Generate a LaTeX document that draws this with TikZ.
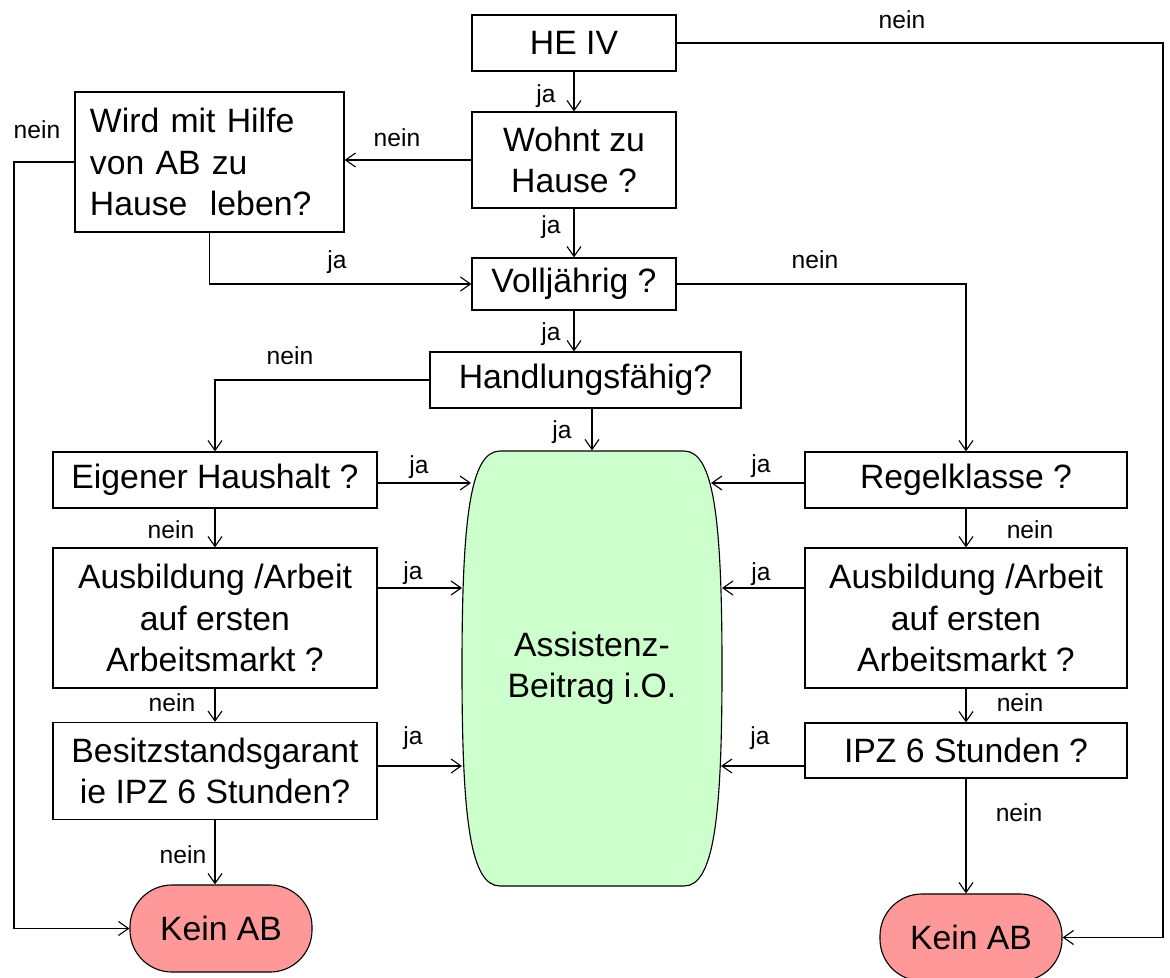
\documentclass[tikz,border=0pt]{standalone}
\usepackage{fontspec}
\setmainfont{Liberation Sans}
\usetikzlibrary{arrows.meta}
\newcommand\boxfont{\fontsize{24}{29.5}\selectfont}
\newcommand\lblfont{\fontsize{17.5}{21}\selectfont}
\definecolor{jagreen}{RGB}{204,255,204}
\definecolor{neinred}{RGB}{255,153,153}

\begin{document}
\begin{tikzpicture}[x=0.025cm,y=-0.025cm,line width=0.8pt]
\tikzset{
  arr/.style={->,>={Straight Barb[length=2.5mm,width=3.5mm]}},
  box/.style={draw,font=\boxfont,align=center,inner sep=2pt,minimum width=#1},
  box/.default=5.1cm,
  endbox/.style={draw,fill=neinred,font=\boxfont,rounded corners=1.05cm,
    minimum width=4.55cm,minimum height=2.175cm},
  lbl/.style={font=\lblfont,inner sep=0pt}
}
\useasboundingbox (0,0) rectangle (1170,978);

% Fragen
\node[box,minimum height=1.4cm] (he) at (574,43) {HE IV};
\node[box,minimum height=2.4cm] (wohnt) at (574,160) {Wohnt zu\\Hause ?};
\node[draw,font=\boxfont,align=left,text width=5.975cm,inner xsep=0.375cm,
  minimum height=3.5cm] (wird) at (209.5,162) {Wird mit Hilfe\\von AB zu\\Hause~ leben?};
\node[box,minimum height=1.3cm] (vollj) at (574,284) {Volljährig ?};
\node[box=7.775cm,minimum height=1.4cm] (hf) at (585.5,380) {Handlungsfähig?};

\node[box=8.1cm,minimum height=1.4cm] (eigen) at (215,480) {Eigener Haushalt ?};
\node[box=8.1cm,minimum height=3.5cm] (ausL) at (215,618) {Ausbildung /Arbeit\\auf ersten\\Arbeitsmarkt ?};
\node[box=8.1cm,minimum height=2.425cm] (besitz) at (215,771) {Besitzstandsgarant\\ie IPZ 6 Stunden?};
\node[endbox] (keinL) at (221,928.5) {Kein AB};

\node[box=8.05cm,minimum height=1.4cm] (regel) at (966,480) {Regelklasse ?};
\node[box=8.05cm,minimum height=3.5cm] (ausR) at (966,618) {Ausbildung /Arbeit\\auf ersten\\Arbeitsmarkt ?};
\node[box=8.05cm,minimum height=1.375cm] (ipz) at (966,750.5) {IPZ 6 Stunden ?};
\node[endbox] (keinR) at (971,937.5) {Kein AB};

% Ergebnis (Fass)
\draw[fill=jagreen] (500,451) -- (684,451)
  .. controls (714,451) and (722,520) .. (722,668.5)
  .. controls (722,817) and (714,886) .. (684,886) -- (500,886)
  .. controls (470,886) and (462,817) .. (462,668.5)
  .. controls (462,520) and (470,451) .. (500,451) -- cycle;
\node[font=\boxfont,align=center,minimum width=6.5cm,minimum height=10.875cm]
  (beitrag) at (592,668.5) {Assistenz-\\Beitrag i.O.};
\coordinate (gl1) at (471,483);
\coordinate (gl2) at (462,588);
\coordinate (gl3) at (462,766);
\coordinate (gr1) at (711,483);
\coordinate (gr2) at (722,588);
\coordinate (gr3) at (721,766);
\coordinate (lc) at (14,0);
\coordinate (rc) at (1163,0);

% Verbindungen
\draw[arr] (he) -- (wohnt);
\draw[arr] (wohnt) -- (vollj);
\draw[arr] (vollj.south) -- (vollj.south |- hf.north);
\draw[arr] (hf.south -| beitrag.north) -- (beitrag.north);
\draw[arr] (he.east) -- (he.east -| rc) |- (keinR.east);
\draw[arr] (wohnt.west) -- (wohnt.west -| wird.east);
\draw[arr] (wird.west) -- (wird.west -| lc) |- (keinL.west);
\draw[arr] (wird.south) |- (vollj.west);
\draw[arr] (vollj.east) -| (regel.north);
\draw[arr] (hf.west) -| (eigen.north);

\draw[arr] (eigen) -- (ausL);
\draw[arr] (ausL) -- (besitz);
\draw[arr] (besitz.south) -- (besitz.south |- keinL.north);
\draw[arr] (regel) -- (ausR);
\draw[arr] (ausR) -- (ipz);
\draw[arr] (ipz.south) -- (ipz.south |- keinR.north);

\draw[arr] (eigen.east |- gl1) -- (gl1);
\draw[arr] (ausL.east |- gl2) -- (gl2);
\draw[arr] (besitz.east |- gl3) -- (gl3);
\draw[arr] (regel.west |- gr1) -- (gr1);
\draw[arr] (ausR.west |- gr2) -- (gr2);
\draw[arr] (ipz.west |- gr3) -- (gr3);

% ja / nein
\node[lbl] (l1) at (902,20) {nein};
\node[lbl] (l2) at (546,96) {ja};
\node[lbl] (l3) at (397,138) {nein};
\node[lbl] (l4) at (37,130) {nein};
\node[lbl] (l5) at (551,227) {ja};
\node[lbl] (l6) at (337,262) {ja};
\node[lbl] (l7) at (815,260) {nein};
\node[lbl] (l8) at (551,334) {ja};
\node[lbl] (l9) at (290,356) {nein};
\node[lbl] (l10) at (562,432) {ja};
\node[lbl] (l11) at (419,467) {ja};
\node[lbl] (l12) at (171,530) {nein};
\node[lbl] (l13) at (413,573) {ja};
\node[lbl] (l14) at (172,703) {nein};
\node[lbl] (l15) at (413,738) {ja};
\node[lbl] (l16) at (183,855) {nein};
\node[lbl] (l17) at (761,466) {ja};
\node[lbl] (l18) at (1030,530) {nein};
\node[lbl] (l19) at (761,574) {ja};
\node[lbl] (l20) at (1020,703) {nein};
\node[lbl] (l21) at (760,738) {ja};
\node[lbl] (l22) at (1019,813) {nein};
\end{tikzpicture}
\end{document}
